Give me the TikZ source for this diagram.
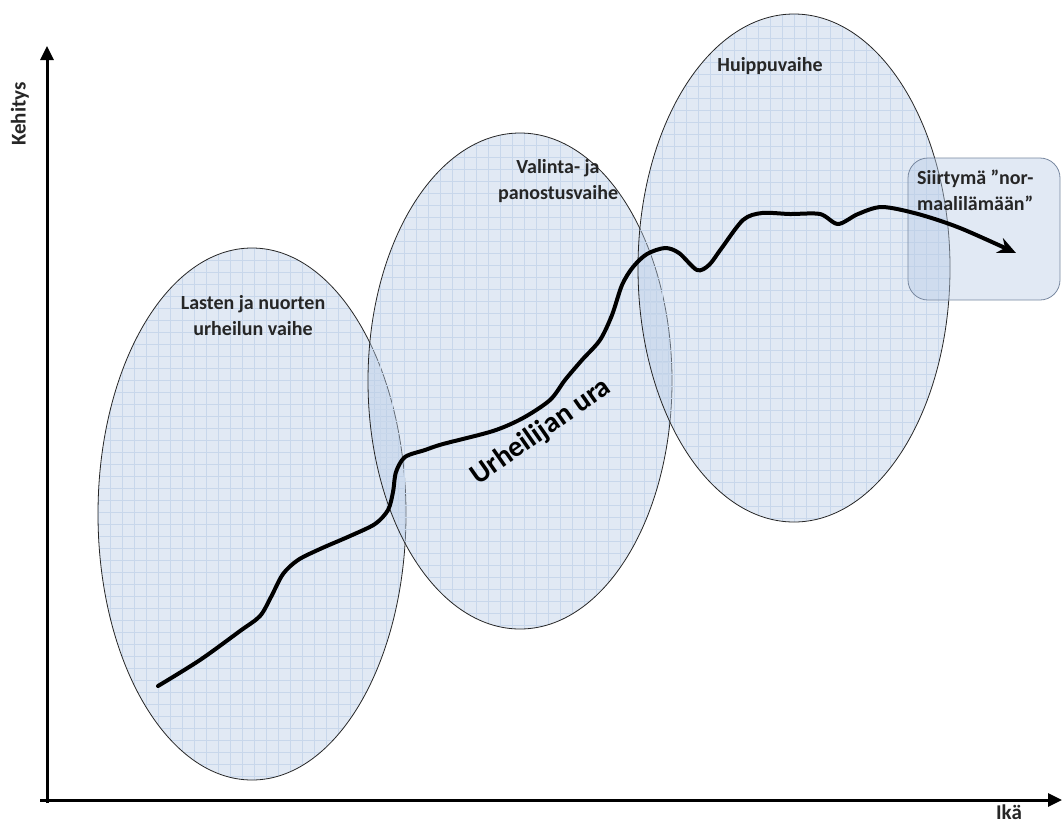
\documentclass[tikz,border=0pt]{standalone}
\usepackage{fontspec}
\setmainfont{Carlito}
\usetikzlibrary{arrows.meta}
\definecolor{phasefill}{RGB}{184,204,230}
\definecolor{gridc}{RGB}{212,223,239}
\definecolor{boxedge}{RGB}{120,136,160}
\tikzset{
  phase/.style={draw=black!85, line width=0.8pt, fill=phasefill, fill opacity=0.42},
  lbl/.style={font=\bfseries\fontsize{20}{26}\selectfont, text=black!85, inner sep=0pt},
  axlbl/.style={font=\bfseries\fontsize{21}{26}\selectfont, text=black!85, inner sep=0pt},
  axis/.style={line width=3pt, -{Triangle[length=14pt,width=13pt]}},
  career/.style={line width=4pt, line cap=round, -{Stealth[length=18pt,width=16pt]}}
}
\begin{document}
\begin{tikzpicture}[x=1pt,y=-1pt]
\useasboundingbox (0,0) rectangle (1062,823);
\fill[white] (0,0) rectangle (1062,823);

% phase ellipses with a faint grid inside
\foreach \cx/\cy/\rx/\ry in {252/514/154/266, 520/381/152/248, 794/268/156/254}{
  \begin{scope}
    \clip (\cx,\cy) ellipse [x radius=\rx, y radius=\ry];
    \foreach \g in {0,12,...,540}{
      \draw[gridc, line width=0.4pt] (\cx-\rx+\g,\cy-\ry) -- (\cx-\rx+\g,\cy+\ry);
      \draw[gridc, line width=0.4pt] (\cx-\rx,\cy-\ry+\g) -- (\cx+\rx,\cy-\ry+\g);
    }
  \end{scope}
  \path[phase] (\cx,\cy) ellipse [x radius=\rx, y radius=\ry];
}

% transition box
\draw[boxedge, line width=0.8pt, fill=phasefill, fill opacity=0.42, rounded corners=20pt]
  (908,158) rectangle (1060,300);

% axes
\coordinate (ytop) at (47,46);
\coordinate (xend) at (1062,800);
\draw[axis] (47,803) -- (ytop);
\draw[axis] (40,800) -- (xend);
\node[axlbl, rotate=90] (kehitys) at (20,114) {Kehitys};
\node[axlbl, anchor=base] (ika) at (1009,819) {Ikä};

% phase labels
\node[lbl, align=center] (lasten) at (253,316) {Lasten ja nuorten\\urheilun vaihe};
\node[lbl, align=center] (valinta) at (558,181) {Valinta- ja\\panostusvaihe};
\node[lbl] (huippu) at (770,66) {Huippuvaihe};
\node[lbl, align=left, anchor=west] (siirtyma) at (917,190) {Siirtymä ”nor-\\maalilämään”};

% career curve
\draw[career] plot[smooth, tension=0.5] coordinates {
  (158,686) (200,660) (240,631) (260,616) (271,597) (283,574) (298,560)
  (320,549) (350,536) (375,524) (388,510) (393,492) (396,472) (405,457)
  (425,450) (443,444) (493,431) (523,418) (550,400) (565,380) (582,360)
  (600,340) (612,315) (622,285) (633,267) (647,254) (665,248) (679,253)
  (697,270) (709,265) (721,249) (743,220) (762,213) (790,214) (820,214)
  (838,224) (858,214) (882,207) (918,214) (960,228) (1016,253)};
\node[font=\bfseries\fontsize{29}{32}\selectfont, rotate=35, inner sep=0pt] (ura) at (541,432) {Urheilijan ura};
\end{tikzpicture}
\end{document}
